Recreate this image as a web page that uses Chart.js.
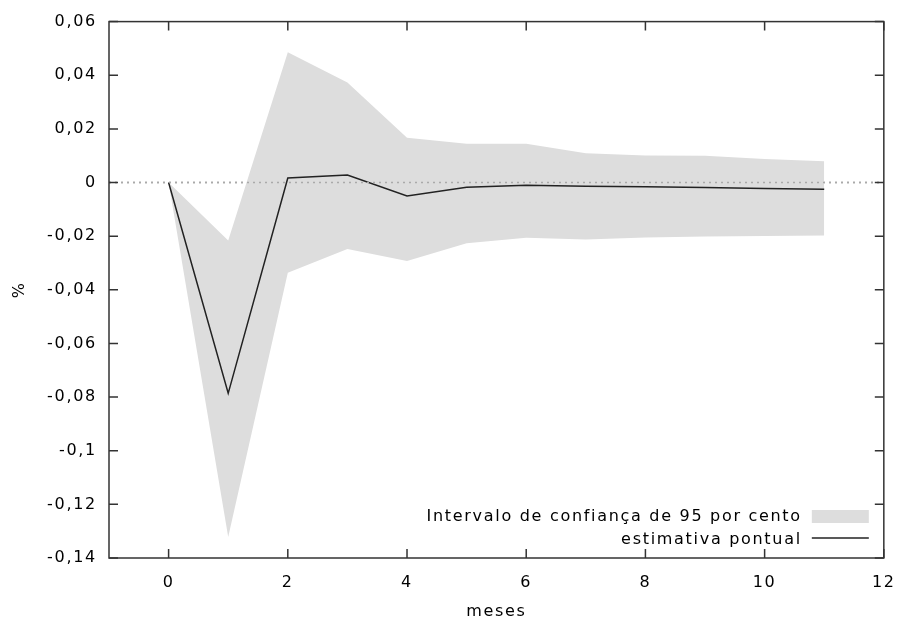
<!DOCTYPE html>
<html>
<head>
<meta charset="utf-8">
<script src="https://cdn.jsdelivr.net/npm/chart.js@4/dist/chart.umd.min.js"></script>
<style>
  html, body { margin: 0; padding: 0; background: #fff; }
  #wrap { width: 909px; height: 621px; position: relative; }
</style>
</head>
<body>
<div id="wrap"><canvas id="irf"></canvas></div>
<script>
// meses 0..11
const months = [0, 1, 2, 3, 4, 5, 6, 7, 8, 9, 10, 11];
const pointEstimate = [0, -0.0786, 0.0017, 0.0028, -0.0050, -0.0018, -0.0010, -0.0014, -0.0016, -0.0019, -0.0022, -0.0025];
const upperBand = [0, -0.0216, 0.0486, 0.0373, 0.0167, 0.0145, 0.0145, 0.0109, 0.0101, 0.0100, 0.0088, 0.0079];
const lowerBand = [0, -0.1322, -0.0336, -0.0248, -0.0293, -0.0226, -0.0206, -0.0212, -0.0205, -0.0201, -0.0199, -0.0198];
const xTickValues = [0, 2, 4, 6, 8, 10, 12];
const yTickValues = [-0.14, -0.12, -0.1, -0.08, -0.06, -0.04, -0.02, 0, 0.02, 0.04, 0.06];
const bandLabel = 'Intervalo de confiança de 95 por cento';
const lineLabel = 'estimativa pontual';

const FONT = '"DejaVu Sans", Verdana, sans-serif';
const SPACING = '1.7px';
const TEXT = '#000';
const toXY = arr => arr.map((v, i) => ({ x: months[i], y: v }));
const fmt = v => String(Math.round(v * 100) / 100).replace('.', ',');

// gnuplot-like frame: border, inward ticks on all sides, dotted zero line, legend inside
const framePlugin = {
  id: 'frame',
  beforeDraw(chart) {
    chart.ctx.letterSpacing = SPACING;
  },
  beforeDatasetsDraw(chart) {
    const { ctx, chartArea: a, scales: { y } } = chart;
    ctx.save();
    const y0 = y.getPixelForValue(0);
    ctx.strokeStyle = '#999';
    ctx.lineWidth = 1.5;
    ctx.setLineDash([2, 4]);
    ctx.beginPath();
    ctx.moveTo(a.left, y0);
    ctx.lineTo(a.right, y0);
    ctx.stroke();
    ctx.restore();
  },
  afterDatasetsDraw(chart) {
    const { ctx, chartArea: a, scales: { x, y } } = chart;
    ctx.save();
    // zero line over the band (not over the estimate)
    const y0 = y.getPixelForValue(0);
    ctx.strokeStyle = '#aaa';
    ctx.lineWidth = 1.5;
    ctx.setLineDash([2, 4]);
    ctx.beginPath();
    ctx.moveTo(a.left, y0);
    ctx.lineTo(a.right, y0);
    ctx.stroke();
    ctx.setLineDash([]);

    // border + ticks
    ctx.strokeStyle = '#333';
    ctx.lineWidth = 1.5;
    ctx.strokeRect(a.left, a.top, a.right - a.left, a.bottom - a.top);
    const tl = 9;
    ctx.beginPath();
    x.ticks.forEach(t => {
      const px = x.getPixelForValue(t.value);
      ctx.moveTo(px, a.bottom); ctx.lineTo(px, a.bottom - tl);
      ctx.moveTo(px, a.top); ctx.lineTo(px, a.top + tl);
    });
    y.ticks.forEach(t => {
      const py = y.getPixelForValue(t.value);
      ctx.moveTo(a.left, py); ctx.lineTo(a.left + tl, py);
      ctx.moveTo(a.right, py); ctx.lineTo(a.right - tl, py);
    });
    ctx.stroke();

    // legend
    ctx.font = '16px ' + FONT;
    ctx.letterSpacing = SPACING;
    ctx.fillStyle = TEXT;
    ctx.textAlign = 'right';
    ctx.textBaseline = 'middle';
    const tx = a.right - 84;
    ctx.fillText(bandLabel, tx + 2, a.bottom - 41);
    ctx.fillText(lineLabel, tx + 2, a.bottom - 18);
    ctx.fillStyle = '#dddddd';
    ctx.fillRect(tx + 12, a.bottom - 48, 57, 13);
    ctx.strokeStyle = '#222';
    ctx.lineWidth = 1.5;
    ctx.beginPath();
    ctx.moveTo(tx + 12, a.bottom - 20);
    ctx.lineTo(tx + 69, a.bottom - 20);
    ctx.stroke();
    ctx.restore();
  }
};

new Chart(document.getElementById('irf'), {
  type: 'line',
  data: {
    datasets: [
      {
        label: 'lower',
        data: toXY(lowerBand),
        borderWidth: 0,
        borderColor: 'rgba(0,0,0,0)',
        pointRadius: 0,
        fill: false,
        order: 2
      },
      {
        label: bandLabel,
        data: toXY(upperBand),
        borderWidth: 0,
        borderColor: 'rgba(0,0,0,0)',
        backgroundColor: '#dddddd',
        pointRadius: 0,
        fill: '-1',
        order: 1
      },
      {
        label: lineLabel,
        data: toXY(pointEstimate),
        borderColor: '#222',
        borderWidth: 1.5,
        pointRadius: 0,
        fill: false,
        order: 0
      }
    ]
  },
  plugins: [framePlugin],
  options: {
    responsive: true,
    maintainAspectRatio: false,
    animation: false,
    layout: { padding: { top: 20, right: 14, left: 0, bottom: 0 } },
    plugins: {
      legend: { display: false },
      tooltip: { enabled: false }
    },
    scales: {
      x: {
        type: 'linear',
        min: -1,
        max: 12,
        afterBuildTicks: s => { s.ticks = xTickValues.map(v => ({ value: v })); },
        afterFit: s => { s.height = 63; },
        grid: { display: false, drawTicks: false },
        border: { display: false },
        ticks: {
          padding: 15,
          color: TEXT,
          font: { family: FONT, size: 16 },
          maxRotation: 0,
          callback: v => fmt(v)
        },
        title: {
          display: true,
          text: 'meses',
          color: TEXT,
          font: { family: FONT, size: 16 },
          padding: { top: 6, bottom: 0 }
        }
      },
      y: {
        min: -0.14,
        max: 0.06,
        afterBuildTicks: s => { s.ticks = yTickValues.map(v => ({ value: v })); },
        afterFit: s => { s.width = 109; },
        grid: { display: false, drawTicks: false },
        border: { display: false },
        ticks: {
          padding: 12,
          color: TEXT,
          font: { family: FONT, size: 16 },
          callback: v => fmt(v)
        },
        title: {
          display: true,
          text: '%',
          color: TEXT,
          font: { family: FONT, size: 16 },
          padding: { top: 10, bottom: 0 }
        }
      }
    }
  }
});
</script>
</body>
</html>
